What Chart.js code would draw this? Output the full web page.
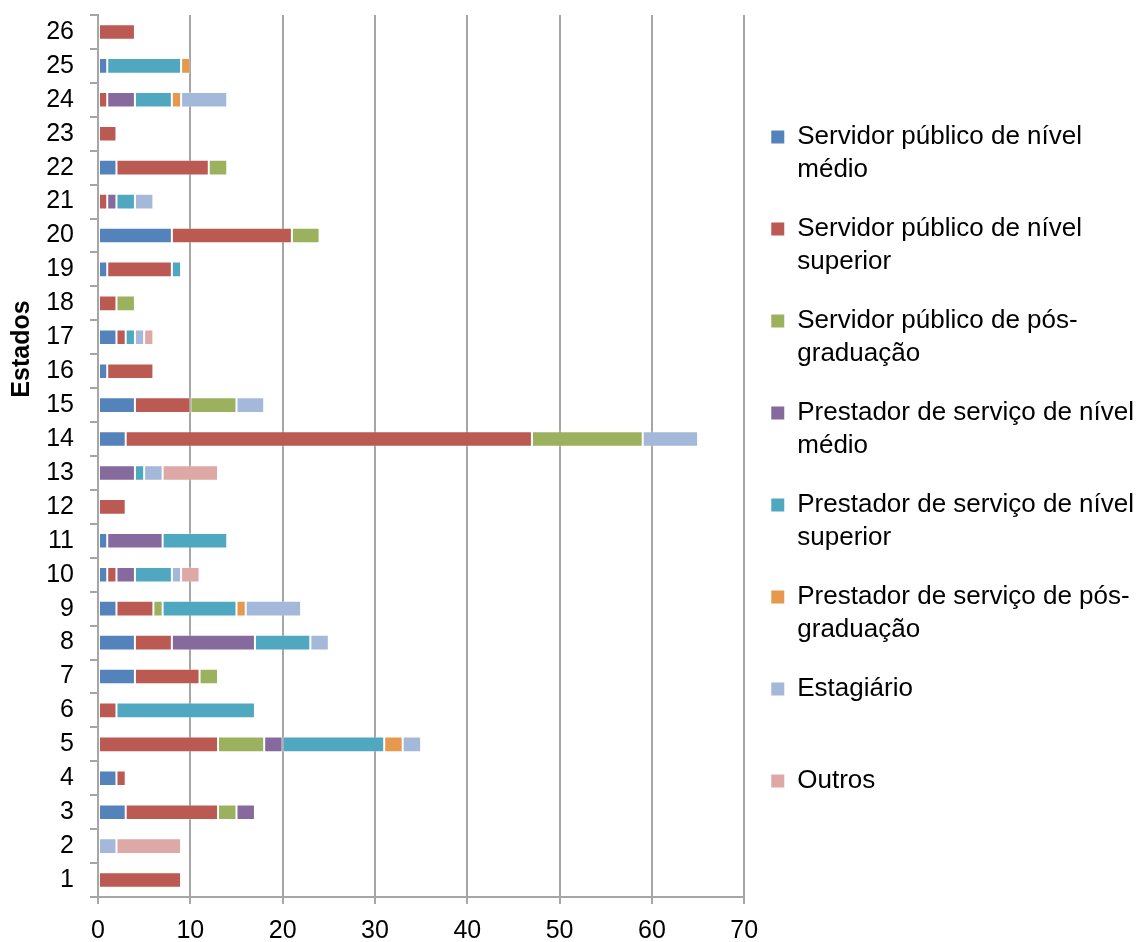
<!DOCTYPE html>
<html>
<head>
<meta charset="utf-8">
<script src="https://cdn.jsdelivr.net/npm/chart.js@4"></script>
<style>
  html, body { margin: 0; padding: 0; background: #fff; }
</style>
</head>
<body>
<canvas id="myChart" width="1146" height="942"></canvas>
<script>
const estados = ['1', '2', '3', '4', '5', '6', '7', '8', '9', '10', '11', '12', '13',
  '14', '15', '16', '17', '18', '19', '20', '21', '22', '23', '24', '25', '26'];

// valores por estado (1..26)
const servMedio     = [0, 0, 3, 2, 0, 0, 4, 4, 2, 1, 1, 0, 0, 3, 4, 1, 2, 0, 1, 8, 0, 2, 0, 0, 1, 0];
const servSuperior  = [9, 0, 10, 1, 13, 2, 7, 4, 4, 1, 0, 3, 0, 44, 6, 5, 1, 2, 7, 13, 1, 10, 2, 1, 0, 4];
const servPos       = [0, 0, 2, 0, 5, 0, 2, 0, 1, 0, 0, 0, 0, 12, 5, 0, 0, 2, 0, 3, 0, 2, 0, 0, 0, 0];
const prestMedio    = [0, 0, 2, 0, 2, 0, 0, 9, 0, 2, 6, 0, 4, 0, 0, 0, 0, 0, 0, 0, 1, 0, 0, 3, 0, 0];
const prestSuperior = [0, 0, 0, 0, 11, 15, 0, 6, 8, 4, 7, 0, 1, 0, 0, 0, 1, 0, 1, 0, 2, 0, 0, 4, 8, 0];
const prestPos      = [0, 0, 0, 0, 2, 0, 0, 0, 1, 0, 0, 0, 0, 0, 0, 0, 0, 0, 0, 0, 0, 0, 0, 1, 1, 0];
const estagiario    = [0, 2, 0, 0, 2, 0, 0, 2, 6, 1, 0, 0, 2, 6, 3, 0, 1, 0, 0, 0, 2, 0, 0, 5, 0, 0];
const outros        = [0, 7, 0, 0, 0, 0, 0, 0, 0, 2, 0, 0, 6, 0, 0, 0, 1, 0, 0, 0, 0, 0, 0, 0, 0, 0];

const xTicks = [0, 10, 20, 30, 40, 50, 60, 70];

const legendLines = [
  ['Servidor público de nível', 'médio'],
  ['Servidor público de nível', 'superior'],
  ['Servidor público de pós-', 'graduação'],
  ['Prestador de serviço de nível', 'médio'],
  ['Prestador de serviço de nível', 'superior'],
  ['Prestador de serviço de pós-', 'graduação'],
  ['Estagiário', ''],
  ['Outros', '']
];
const series = [servMedio, servSuperior, servPos, prestMedio, prestSuperior, prestPos, estagiario, outros];
const colors = ['#5383BA', '#BA5A53', '#9BB15E', '#866A9E', '#4FA8BF', '#E5984E', '#A4B8DA', '#DDA8A6'];

const fontFamily = '"Liberation Sans", Arial, sans-serif';

function joinLines(lines) {
  return lines.reduce(function(acc, l) {
    if (!l) return acc;
    if (!acc || acc.endsWith('-')) return acc + l;
    return acc + ' ' + l;
  }, '');
}

const datasets = series.map(function(values, i) {
  return {
    label: joinLines(legendLines[i]),
    data: values.map(function(v) { return v === 0 ? null : v; }),
    backgroundColor: colors[i],
    borderColor: 'rgba(255,255,255,0.3)',
    borderWidth: 1,
    borderSkipped: false,
    categoryPercentage: 1,
    barPercentage: 0.46
  };
});

// titulo do eixo y (o Excel o coloca acima do centro do eixo)
const yTitle = {
  id: 'yTitle',
  afterDraw: function(chart) {
    const ctx = chart.ctx;
    ctx.save();
    ctx.translate(22, 349);
    ctx.rotate(-Math.PI / 2);
    ctx.font = 'bold 25px ' + fontFamily;
    ctx.fillStyle = '#000';
    ctx.textAlign = 'center';
    ctx.textBaseline = 'middle';
    ctx.fillText('Estados', 0, 0);
    ctx.restore();
  }
};

const config = {
  type: 'bar',
  data: { labels: estados, datasets: datasets },
  options: {
    indexAxis: 'y',
    responsive: false,
    animation: false,
    layout: { padding: { top: 15, left: 7, right: 2, bottom: 0 } },
    plugins: {
      tooltip: { enabled: false },
      legend: {
        position: 'right',
        maxWidth: 402,
        labels: {
          color: '#000',
          font: { family: fontFamily, size: 26, lineHeight: 1.25 },
          boxWidth: 13,
          boxHeight: 13,
          padding: 27,
          generateLabels: function(chart) {
            const items = Chart.defaults.plugins.legend.labels.generateLabels(chart);
            items.forEach(function(item, i) {
              item.text = legendLines[i];
              item.strokeStyle = item.fillStyle;
              item.lineWidth = 0;
            });
            return items;
          }
        }
      }
    },
    scales: {
      x: {
        stacked: true,
        min: 0,
        max: 70,
        afterBuildTicks: function(scale) {
          scale.ticks = xTicks.map(function(v) { return { value: v }; });
        },
        afterFit: function(scale) {
          scale.height = 45;
        },
        ticks: {
          color: '#000',
          font: { family: fontFamily, size: 25, lineHeight: 1 },
          padding: 15
        },
        grid: { color: '#A6A6A6', lineWidth: 2, tickLength: 7 },
        border: { color: '#A6A6A6', width: 2 }
      },
      y: {
        stacked: true,
        reverse: true,
        afterFit: function(scale) {
          scale.width = 91;
          scale.paddingTop = 0;
          scale.paddingBottom = 0;
        },
        ticks: {
          color: '#000',
          font: { family: fontFamily, size: 25 },
          padding: 16,
          autoSkip: false
        },
        grid: { drawOnChartArea: false, color: '#A6A6A6', lineWidth: 2, tickLength: 8, offset: true },
        border: { color: '#A6A6A6', width: 2 }
      }
    }
  },
  plugins: [yTitle]
};

var myChart = new Chart(document.getElementById('myChart'), config);
</script>
</body>
</html>
